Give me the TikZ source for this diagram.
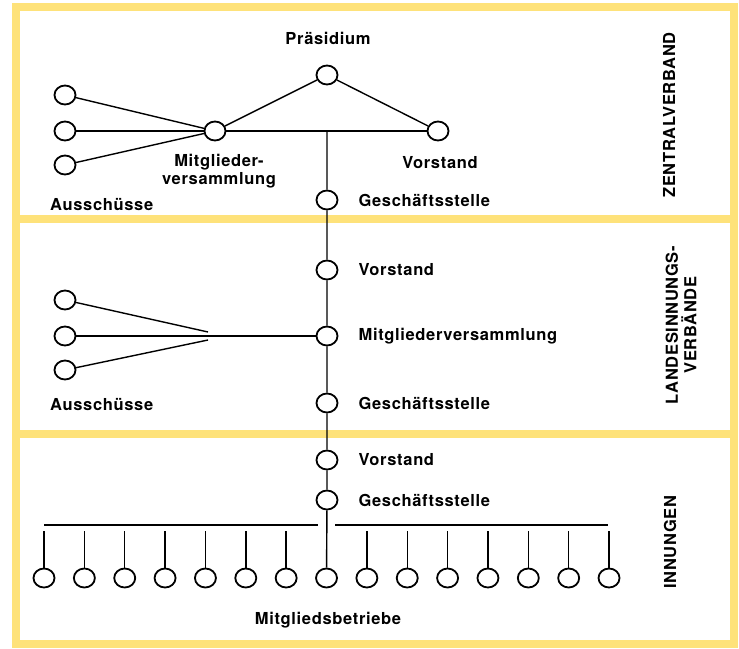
\documentclass[tikz,border=0pt]{standalone}
\usepackage{fontspec}
\setmainfont{TeX Gyre Heros}[LetterSpace=4.0]
\usetikzlibrary{positioning,shapes.geometric}
\definecolor{frameyellow}{RGB}{254,226,122}
\newcommand{\lblfont}{\bfseries\fontsize{16.5}{18.5}\selectfont}
\tikzset{
  org/.style={draw,ellipse,line width=1.8pt,fill=white,minimum width=21pt,minimum height=19pt,inner sep=0pt},
  txt/.style={font=\lblfont,inner sep=0pt},
  side/.style={font=\lblfont,inner sep=0pt,rotate=90,align=center},
  link/.style={line width=1.4pt},
  band/.style={draw=frameyellow,line width=8pt}
}
\begin{document}
\begin{tikzpicture}[x=1pt,y=-1pt]
  \useasboundingbox (0,0) rectangle (739,648);
  % frame with three levels
  \draw[band] (16,7) rectangle (734,644);
  \draw[band] (16,219) -- (734,219);
  \draw[band] (16,434) -- (734,434);
  % Zentralverband
  \node[org] (a1) at (65,95) {};
  \node[org] (a2) at (65,131) {};
  \node[org] (a3) at (65,165) {};
  \node[org] (mv1) at (215,131) {};
  \node[org] (praes) at (327,75) {};
  \node[org] (vor1) at (438,131) {};
  \node[org] (gs1) at (327,200) {};
  \coordinate (j1) at (gs1 |- mv1);
  \draw[link] (a1) -- (mv1); \draw[link] (a2) -- (mv1); \draw[link] (a3) -- (mv1);
  \draw[link] (mv1) -- (praes) -- (vor1);
  \draw[link] (mv1) -- (vor1);
  \node[txt] at (328,38) {Präsidium};
  \node[txt,align=center] at (219,171) {Mitglieder-\\versammlung};
  \node[txt,anchor=west] at (50,205) {Ausschüsse};
  \node[txt] at (440,163) {Vorstand};
  \node[txt,right=20pt of gs1] {Geschäftsstelle};
  \node[side] at (669,115) {ZENTRALVERBAND};
  % Landesinnungsverbände
  \node[org] (b1) at (65,300) {};
  \node[org] (b2) at (65,336) {};
  \node[org] (b3) at (65,370) {};
  \node[org] (vor2) at (327,270) {};
  \node[org] (mv2) at (327,336) {};
  \node[org] (gs2) at (327,403) {};
  \coordinate (f1) at (208,332);
  \coordinate (f3) at (208,340);
  \draw[link] (b1) -- (f1); \draw[link] (b3) -- (f3);
  \draw[link] (b2) -- (mv2);
  \node[txt,right=20pt of vor2] {Vorstand};
  \node[txt,right=20pt of mv2] {Mitgliederversammlung};
  \node[txt,right=20pt of gs2] {Geschäftsstelle};
  \node[txt,anchor=west] at (50,405) {Ausschüsse};
  \node[side] at (681,325) {LANDESINNUNGS-\\VERBÄNDE};
  % Innungen
  \node[org] (vor3) at (327,460) {};
  \node[org] (gs3) at (327,500) {};
  \foreach \i in {0,...,14}{
    \node[org] (m\i) at (44+40.36*\i,578) {};
    \coordinate (s\i) at (44+40.36*\i,531);
  }
  \foreach \i in {0,...,6,8,9,...,14}{
    \draw[link] (s\i) -- (m\i);
  }
  \draw[link] (44,525) -- (318,525);
  \draw[link] (335,525) -- (608,525);
  \node[txt,right=20pt of vor3] {Vorstand};
  \node[txt,right=20pt of gs3] {Geschäftsstelle};
  \node[txt] at (328,620) {Mitgliedsbetriebe};
  \node[side] at (670,542) {INNUNGEN};
  % main line through all levels
  \draw[link] (j1) -- (gs1) -- (vor2) -- (mv2) -- (gs2) -- (vor3) -- (gs3) -- (m7);
\end{tikzpicture}
\end{document}
